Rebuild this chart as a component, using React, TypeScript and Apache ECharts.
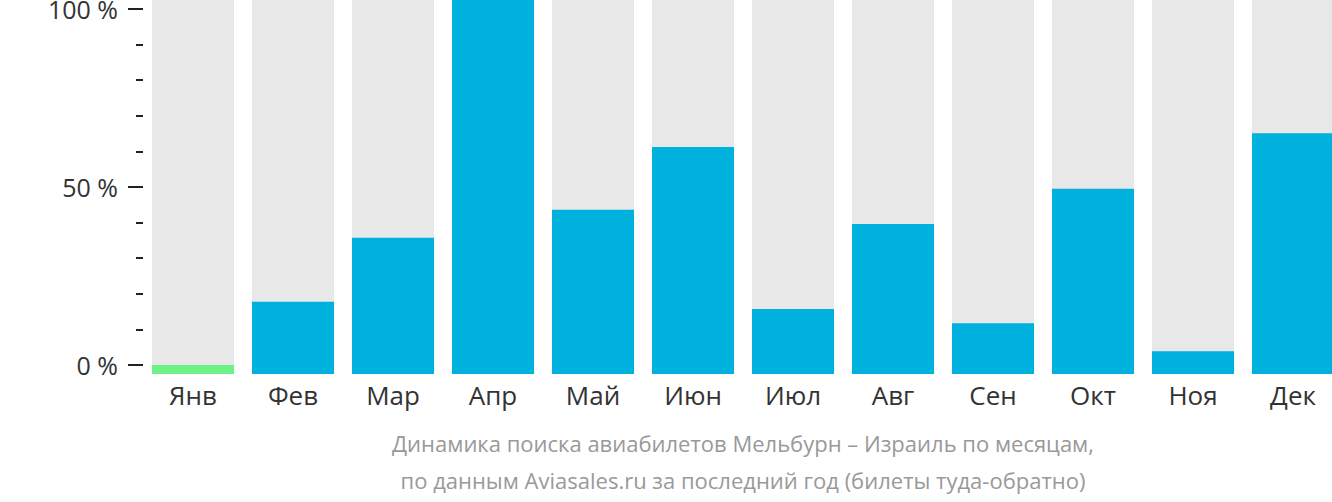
import React, { useEffect, useRef } from "react";
import * as echarts from "echarts";

const months = ["Янв", "Фев", "Мар", "Апр", "Май", "Июн", "Июл", "Авг", "Сен", "Окт", "Ноя", "Дек"];
const values = [2.4, 19.3, 36.4, 100, 43.9, 60.7, 17.4, 40.1, 13.6, 49.5, 6.1, 64.4];
const highlightIndex = 0;
const backgroundValues = [100, 100, 100, 100, 100, 100, 100, 100, 100, 100, 100, 100];
const titleLines = [
  "Динамика поиска авиабилетов Мельбурн – Израиль по месяцам,",
  "по данным Aviasales.ru за последний год (билеты туда-обратно)",
];

const FONT = "'Open Sans', 'Noto Sans', sans-serif";

export default function App() {
  const ref = useRef<HTMLDivElement>(null);
  useEffect(() => {
    if (!ref.current) return;
    const chart = echarts.init(ref.current, undefined, { renderer: "svg" });
    chart.setOption({
      animation: false,
      grid: [
        { left: 143, top: 0, width: 1200, height: 374, outerBoundsMode: "none", containLabel: false },
        { left: 143, top: 9, width: 1200, height: 356, outerBoundsMode: "none", containLabel: false },
      ],
      xAxis: [
        {
          gridIndex: 0,
          type: "category",
          data: months,
          axisLine: { show: false },
          axisTick: { show: false },
          axisLabel: { color: "#333", fontSize: 26, fontFamily: FONT, margin: 8 },
        },
        { gridIndex: 1, type: "category", data: months, show: false },
      ],
      yAxis: [
        { gridIndex: 0, type: "value", min: 0, max: 100, show: false },
        {
          gridIndex: 1,
          type: "value",
          min: 0,
          max: 100,
          interval: 50,
          axisLine: { show: false },
          splitLine: { show: false },
          axisTick: { show: true, length: 15, lineStyle: { color: "#222", width: 2 } },
          minorTick: { show: true, splitNumber: 5, length: 7, lineStyle: { color: "#222", width: 2 } },
          axisLabel: {
            color: "#333",
            fontSize: 25,
            fontFamily: FONT,
            margin: 25,
            formatter: (v: number) => `${v} %`,
          },
        },
      ],
      series: [
        {
          type: "bar",
          xAxisIndex: 0,
          yAxisIndex: 0,
          data: backgroundValues,
          barWidth: 82,
          itemStyle: { color: "#e8e8e8" },
          silent: true,
        },
        {
          type: "bar",
          xAxisIndex: 0,
          yAxisIndex: 0,
          barGap: "-100%",
          barWidth: 82,
          data: values.map((v, i) => ({
            value: v,
            itemStyle: { color: i === highlightIndex ? "#6cf287" : "#00b1dd" },
          })),
        },
      ],
      graphic: titleLines.map((t, i) => ({
        type: "text",
        x: 743,
        y: 443 + i * 37,
        style: {
          text: t,
          fill: "#999",
          font: `22px ${FONT}`,
          textAlign: "center",
          textVerticalAlign: "middle",
        },
      })),
    });
    return () => chart.dispose();
  }, []);
  return (
    <div
      style={{ position: "absolute", left: 0, top: 0, width: 1332, height: 502, overflow: "hidden" }}
    >
      <div ref={ref} style={{ width: 1343, height: 502 }} />
    </div>
  );
}
